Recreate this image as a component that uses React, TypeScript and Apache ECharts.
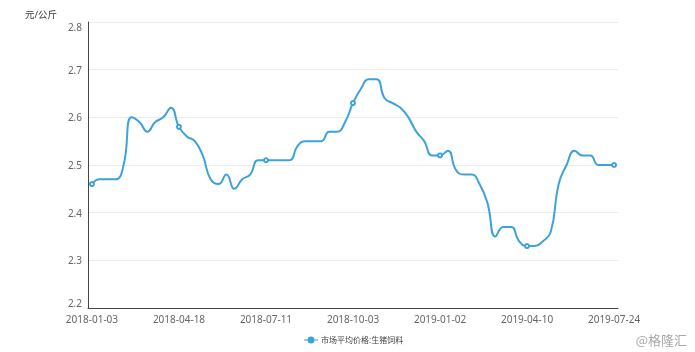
import React, { useEffect, useRef } from "react";
import * as echarts from "echarts";

const categories: string[] = [
  "2018-01-03", "2018-01-10", "2018-01-17", "2018-01-24", "2018-01-31", "2018-02-07",
  "2018-03-07", "2018-03-14", "2018-03-21", "2018-03-28", "2018-04-04", "2018-04-18",
  "2018-04-25", "2018-05-02", "2018-05-09", "2018-05-16", "2018-05-23", "2018-05-30",
  "2018-06-06", "2018-06-13", "2018-06-20", "2018-06-27", "2018-07-11",
  "2018-07-18", "2018-07-25", "2018-08-01", "2018-08-08", "2018-08-15", "2018-08-22",
  "2018-08-29", "2018-09-05", "2018-09-12", "2018-09-19", "2018-10-03",
  "2018-10-17", "2018-10-24", "2018-10-31", "2018-11-07", "2018-11-14", "2018-11-21",
  "2018-11-28", "2018-12-05", "2018-12-12", "2018-12-19", "2019-01-02",
  "2019-01-09", "2019-01-16", "2019-01-23", "2019-01-30", "2019-02-20", "2019-02-27",
  "2019-03-06", "2019-03-13", "2019-03-20", "2019-03-27", "2019-04-10",
  "2019-04-17", "2019-04-24", "2019-05-08", "2019-05-15", "2019-05-22", "2019-05-29",
  "2019-06-12", "2019-06-19", "2019-06-26", "2019-07-10", "2019-07-24",
];

const prices: number[] = [
  2.46, 2.47, 2.47, 2.47, 2.5, 2.6, 2.59, 2.57, 2.59, 2.6, 2.62, 2.58,
  2.56, 2.55, 2.52, 2.47, 2.46, 2.48, 2.45, 2.47, 2.48, 2.51, 2.51,
  2.51, 2.51, 2.51, 2.54, 2.55, 2.55, 2.55, 2.57, 2.57, 2.59, 2.63,
  2.66, 2.68, 2.68, 2.64, 2.63, 2.62, 2.6, 2.57, 2.55, 2.52, 2.52,
  2.53, 2.49, 2.48, 2.48, 2.46, 2.42, 2.35, 2.37, 2.37, 2.34, 2.33,
  2.33, 2.34, 2.36, 2.46, 2.5, 2.53, 2.52, 2.52, 2.5, 2.5, 2.5,
];

const seriesName = "市场平均价格:生猪饲料";
const unitLabel = "元/公斤";
const watermark = "@格隆汇";
const yMin = 2.2;
const yMax = 2.8;
const yStep = 0.1;

export default function App() {
  const ref = useRef<HTMLDivElement>(null);
  useEffect(() => {
    if (!ref.current) return;
    const chart = echarts.init(ref.current, null, { renderer: "svg" });
    const font = "'Noto Sans', 'Noto Sans CJK SC', sans-serif";
    const blue = "#3ea2da";
    chart.setOption({
      animation: false,
      textStyle: { fontFamily: font },
      grid: { left: 88, right: 77, top: 22, bottom: 44 },
      legend: {
        left: 304,
        top: 336,
        padding: 0,
        itemWidth: 14,
        itemHeight: 7,
        itemGap: 6,
        itemStyle: { color: blue, borderColor: blue, borderWidth: 0 },
        data: [
          {
            name: seriesName,
            icon: "path://M0,3h4v1H0z M10,3h4v1H10z M7,0a3.5,3.5 0 1,1 0,7a3.5,3.5 0 1,1 0,-7z",
            itemStyle: { color: blue, borderColor: blue, borderWidth: 0 },
          },
        ],
        textStyle: { fontSize: 8, color: "#444", fontFamily: font, padding: [0, 0, 0, -2] },
      },
      xAxis: {
        type: "category",
        data: categories,
        boundaryGap: true,
        axisLine: { lineStyle: { color: "#444" } },
        axisTick: { show: false },
        axisLabel: { interval: 10, color: "#666", fontSize: 10, margin: 6, fontFamily: font },
        splitLine: { show: false },
      },
      yAxis: {
        type: "value",
        min: yMin,
        max: yMax,
        interval: yStep,
        name: unitLabel,
        nameLocation: "end",
        nameGap: 3,
        nameTextStyle: {
          color: "#333",
          fontSize: 9.5,
          align: "right",
          padding: [0, 31, 0, 0],
          fontFamily: font,
        },
        axisLine: { show: true, lineStyle: { color: "#444" } },
        axisTick: { show: false },
        axisLabel: {
          color: "#666",
          fontSize: 10,
          margin: 6,
          fontFamily: font,
          verticalAlignMinLabel: "bottom",
          verticalAlignMaxLabel: "top",
          formatter: (v: number) => v.toFixed(1),
        },
        splitLine: { show: true, lineStyle: { color: "#ececec" } },
      },
      series: [
        {
          name: seriesName,
          type: "line",
          data: prices,
          smooth: true,
          symbol: "emptyCircle",
          symbolSize: 4,
          showSymbol: true,
          showAllSymbol: false,
          lineStyle: { color: blue, width: 2 },
          itemStyle: { color: blue, borderWidth: 1 },
        },
      ],
      graphic: [
        {
          type: "text",
          right: 8,
          bottom: 6,
          style: {
            text: watermark,
            fill: "#a8a8a8",
            fontSize: 13,
            fontFamily: "'Noto Sans CJK SC', sans-serif",
          },
        },
      ],
    });
    return () => chart.dispose();
  }, []);
  return (
    <div
      ref={ref}
      style={{ position: "fixed", left: 0, top: 0, width: 695, height: 352 }}
    />
  );
}
